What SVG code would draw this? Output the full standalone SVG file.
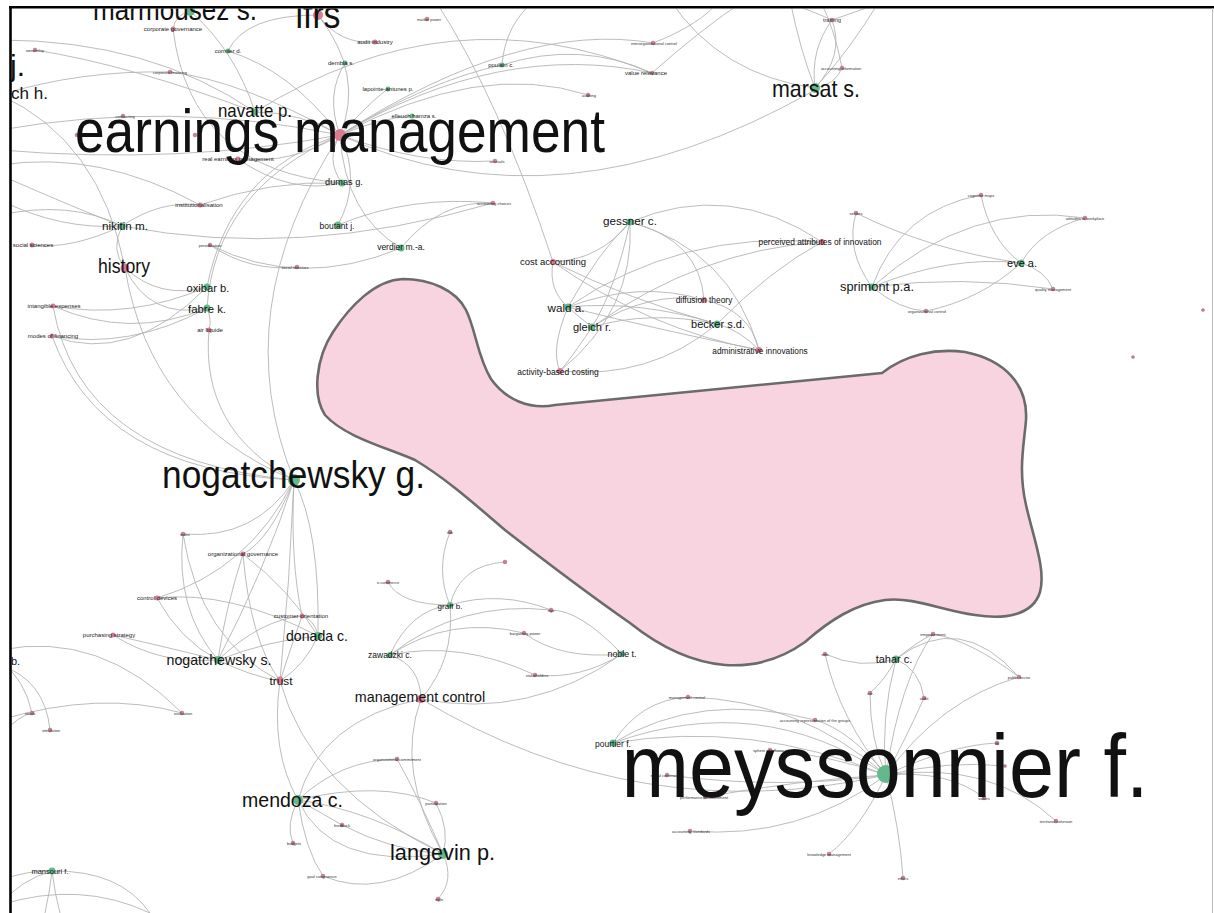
<svg xmlns="http://www.w3.org/2000/svg" width="1214" height="913" viewBox="0 0 1214 913">
<defs>
<clipPath id="frame"><rect x="11.5" y="8.5" width="1200" height="905"/></clipPath>
</defs>
<style>
text{font-family:"Liberation Sans",Arial,sans-serif;fill:#111;text-anchor:middle}
.e{fill:none;stroke:#b4b4b4;stroke-width:0.9}
.g{fill:#63b98b}
.p{fill:#d97b91}
.t{fill:#cf7d8f;stroke:#666;stroke-width:0.3}
.s4{font-size:4px;fill:#333}
.s6{font-size:6px;fill:#222}
</style>
<rect width="1214" height="913" fill="#fff"/>
<g clip-path="url(#frame)">
<g id="connectors">
<path class="e" d="M340 135 Q560 235 815 90"/>
<path class="e" d="M340 135 Q365 75 318 15"/>
<path class="e" d="M340 135 Q325 95 345 63"/>
<path class="e" d="M318 15 Q340 45 375 42"/>
<path class="e" d="M340 135 Q372 100 388 89"/>
<path class="e" d="M340 135 Q380 118 412 116"/>
<path class="e" d="M340 135 Q300 112 255 112"/>
<path class="e" d="M340 135 Q325 160 342 183"/>
<path class="e" d="M340 135 Q362 180 338 225"/>
<path class="e" d="M340 135 Q345 215 401 248"/>
<path class="e" d="M340 135 Q225 310 294 480"/>
<path class="e" d="M207 287 Q230 170 340 135"/>
<path class="e" d="M207 308 Q215 190 340 135"/>
<path class="e" d="M340 135 Q290 165 238 159"/>
<path class="e" d="M238 159 Q290 195 342 183"/>
<path class="e" d="M255 112 Q450 -10 652 73"/>
<path class="e" d="M340 135 Q500 40 652 73"/>
<path class="e" d="M502 65 Q580 40 652 73"/>
<path class="e" d="M340 135 Q520 20 653 43"/>
<path class="e" d="M502 65 Q430 80 340 135"/>
<path class="e" d="M502 65 Q505 25 535 0"/>
<path class="e" d="M340 135 Q480 60 588 95"/>
<path class="e" d="M340 135 Q420 165 495 161"/>
<path class="e" d="M401 248 Q440 200 493 203"/>
<path class="e" d="M338 225 Q410 195 493 203"/>
<path class="e" d="M122 226 Q300 260 493 203"/>
<path class="e" d="M435 0 Q500 100 553 262"/>
<path class="e" d="M173 29 Q190 170 342 183"/>
<path class="e" d="M228 51 Q245 15 318 15"/>
<path class="e" d="M228 51 Q290 70 340 135"/>
<path class="e" d="M190 11 Q175 15 173 29"/>
<path class="e" d="M190 11 Q235 50 255 112"/>
<path class="e" d="M170 72 Q240 80 340 135"/>
<path class="e" d="M0 95 Q80 70 170 72"/>
<path class="e" d="M0 40 Q150 40 255 112"/>
<path class="e" d="M35 50 Q130 65 255 112"/>
<path class="e" d="M0 130 Q170 100 340 135"/>
<path class="e" d="M0 150 Q180 165 340 135"/>
<path class="e" d="M0 95 Q100 140 125 268"/>
<path class="e" d="M0 175 Q80 210 122 226"/>
<path class="e" d="M0 200 Q60 230 122 226"/>
<path class="e" d="M0 215 Q70 200 122 226"/>
<path class="e" d="M122 226 Q70 250 32 245"/>
<path class="e" d="M122 226 Q110 250 125 268"/>
<path class="e" d="M122 226 Q160 200 200 205"/>
<path class="e" d="M200 205 Q270 180 342 183"/>
<path class="e" d="M0 165 Q100 150 200 205"/>
<path class="e" d="M125 268 Q160 300 207 287"/>
<path class="e" d="M125 268 Q150 320 207 308"/>
<path class="e" d="M125 268 Q150 420 294 480"/>
<path class="e" d="M210 245 Q300 290 401 248"/>
<path class="e" d="M210 245 Q250 272 297 267"/>
<path class="e" d="M53 306 Q130 320 207 287"/>
<path class="e" d="M53 306 Q130 340 207 308"/>
<path class="e" d="M52 336 Q130 350 207 308"/>
<path class="e" d="M52 336 Q130 365 207 287"/>
<path class="e" d="M209 330 Q200 430 294 480"/>
<path class="e" d="M207 308 Q212 320 209 330"/>
<path class="e" d="M53 306 Q80 460 294 480"/>
<path class="e" d="M52 336 Q100 470 294 480"/>
<path class="e" d="M294 480 Q255 540 183 534"/>
<path class="e" d="M294 480 Q270 540 243 554"/>
<path class="e" d="M294 480 Q250 570 157 598"/>
<path class="e" d="M294 480 Q290 560 302 616"/>
<path class="e" d="M294 480 Q320 530 318 636"/>
<path class="e" d="M294 480 Q290 580 280 681"/>
<path class="e" d="M294 480 Q265 570 218 660"/>
<path class="e" d="M183 534 Q175 610 218 660"/>
<path class="e" d="M183 534 Q200 640 280 681"/>
<path class="e" d="M243 554 Q225 610 218 660"/>
<path class="e" d="M243 554 Q290 590 318 636"/>
<path class="e" d="M243 554 Q250 640 280 681"/>
<path class="e" d="M157 598 Q180 640 218 660"/>
<path class="e" d="M157 598 Q230 590 318 636"/>
<path class="e" d="M302 616 Q260 620 218 660"/>
<path class="e" d="M302 616 Q315 620 318 636"/>
<path class="e" d="M302 616 Q290 650 280 681"/>
<path class="e" d="M113 635 Q160 665 218 660"/>
<path class="e" d="M113 635 Q170 648 218 660"/>
<path class="e" d="M318 636 Q305 665 280 681"/>
<path class="e" d="M218 660 Q270 640 318 636"/>
<path class="e" d="M218 660 Q250 676 280 681"/>
<path class="e" d="M280 681 Q270 750 298 800"/>
<path class="e" d="M280 681 Q310 790 443 854"/>
<path class="e" d="M298 800 Q320 720 421 699"/>
<path class="e" d="M298 800 Q370 810 443 854"/>
<path class="e" d="M298 800 Q340 760 397 759"/>
<path class="e" d="M298 800 Q325 815 342 825"/>
<path class="e" d="M298 800 Q285 825 293 843"/>
<path class="e" d="M298 800 Q305 850 323 876"/>
<path class="e" d="M298 800 Q380 780 436 803"/>
<path class="e" d="M298 800 Q330 870 443 854"/>
<path class="e" d="M443 854 Q450 830 436 803"/>
<path class="e" d="M443 854 Q455 880 438 899"/>
<path class="e" d="M443 854 Q420 800 397 759"/>
<path class="e" d="M443 854 Q395 770 421 699"/>
<path class="e" d="M323 876 Q380 900 443 854"/>
<path class="e" d="M342 825 Q390 850 443 854"/>
<path class="e" d="M450 605 Q400 605 388 582"/>
<path class="e" d="M450 605 Q460 565 505 562"/>
<path class="e" d="M450 605 Q500 590 551 610"/>
<path class="e" d="M450 605 Q410 610 390 655"/>
<path class="e" d="M450 605 Q455 660 421 699"/>
<path class="e" d="M450 605 Q435 570 450 532"/>
<path class="e" d="M390 655 Q450 615 524 633"/>
<path class="e" d="M390 655 Q460 600 551 610"/>
<path class="e" d="M390 655 Q460 640 535 675"/>
<path class="e" d="M390 655 Q420 665 421 699"/>
<path class="e" d="M622 654 Q580 610 551 610"/>
<path class="e" d="M622 654 Q560 660 524 633"/>
<path class="e" d="M622 654 Q580 680 535 675"/>
<path class="e" d="M622 654 Q530 720 421 699"/>
<path class="e" d="M421 699 Q640 830 886 775"/>
<path class="e" d="M886 775 Q880 720 896 659"/>
<path class="e" d="M886 775 Q900 680 933 634"/>
<path class="e" d="M886 775 Q840 720 825 654"/>
<path class="e" d="M886 775 Q870 740 870 693"/>
<path class="e" d="M886 775 Q905 740 924 698"/>
<path class="e" d="M886 775 Q940 700 1019 677"/>
<path class="e" d="M886 775 Q950 745 997 743"/>
<path class="e" d="M886 775 Q950 770 984 798"/>
<path class="e" d="M886 775 Q950 760 1005 766"/>
<path class="e" d="M886 775 Q990 760 1056 821"/>
<path class="e" d="M886 775 Q860 830 829 854"/>
<path class="e" d="M886 775 Q900 830 903 878"/>
<path class="e" d="M886 775 Q850 730 815 720"/>
<path class="e" d="M886 775 Q800 780 705 797"/>
<path class="e" d="M886 775 Q780 790 667 775"/>
<path class="e" d="M886 775 Q800 840 690 831"/>
<path class="e" d="M886 775 Q830 755 770 750"/>
<path class="e" d="M886 775 Q750 720 613 743"/>
<path class="e" d="M613 743 Q640 700 688 697"/>
<path class="e" d="M613 743 Q700 690 815 720"/>
<path class="e" d="M613 743 Q760 690 886 775"/>
<path class="e" d="M688 697 Q800 700 886 775"/>
<path class="e" d="M896 659 Q920 640 933 634"/>
<path class="e" d="M896 659 Q860 670 825 654"/>
<path class="e" d="M896 659 Q885 680 870 693"/>
<path class="e" d="M896 659 Q920 670 924 698"/>
<path class="e" d="M933 634 Q970 640 1019 677"/>
<path class="e" d="M896 659 Q960 610 1019 677"/>
<path class="e" d="M553 262 Q548 290 568 307"/>
<path class="e" d="M553 262 Q600 260 630 222"/>
<path class="e" d="M553 262 Q630 300 717 324"/>
<path class="e" d="M553 262 Q650 330 759 350"/>
<path class="e" d="M630 222 Q600 250 568 307"/>
<path class="e" d="M630 222 Q615 290 592 327"/>
<path class="e" d="M630 222 Q635 310 560 371"/>
<path class="e" d="M630 222 Q700 240 704 300"/>
<path class="e" d="M630 222 Q730 250 759 350"/>
<path class="e" d="M630 222 Q730 180 822 242"/>
<path class="e" d="M568 307 Q680 230 822 242"/>
<path class="e" d="M568 307 Q640 280 704 300"/>
<path class="e" d="M568 307 Q640 300 717 324"/>
<path class="e" d="M568 307 Q660 330 759 350"/>
<path class="e" d="M568 307 Q580 318 592 327"/>
<path class="e" d="M568 307 Q550 350 560 371"/>
<path class="e" d="M592 327 Q650 290 704 300"/>
<path class="e" d="M592 327 Q650 310 717 324"/>
<path class="e" d="M592 327 Q570 360 560 371"/>
<path class="e" d="M592 327 Q700 250 822 242"/>
<path class="e" d="M717 324 Q740 330 759 350"/>
<path class="e" d="M560 371 Q650 380 717 324"/>
<path class="e" d="M717 324 Q770 270 822 242"/>
<path class="e" d="M704 300 Q750 310 759 350"/>
<path class="e" d="M872 287 Q845 250 856 213"/>
<path class="e" d="M872 287 Q900 210 981 195"/>
<path class="e" d="M872 287 Q970 200 1085 218"/>
<path class="e" d="M872 287 Q950 255 1021 263"/>
<path class="e" d="M872 287 Q960 275 1053 289"/>
<path class="e" d="M872 287 Q900 310 926 311"/>
<path class="e" d="M856 213 Q930 250 1021 263"/>
<path class="e" d="M981 195 Q990 240 1021 263"/>
<path class="e" d="M1085 218 Q1040 230 1021 263"/>
<path class="e" d="M1021 263 Q1045 270 1053 289"/>
<path class="e" d="M1021 263 Q980 300 926 311"/>
<path class="e" d="M815 88 Q810 50 832 20"/>
<path class="e" d="M815 88 Q845 55 832 20"/>
<path class="e" d="M815 88 Q835 85 842 68"/>
<path class="e" d="M815 88 Q720 75 670 0"/>
<path class="e" d="M815 88 Q800 50 790 0"/>
<path class="e" d="M832 20 Q810 10 780 0"/>
<path class="e" d="M832 20 Q860 10 890 0"/>
<path class="e" d="M842 68 Q835 30 820 0"/>
<path class="e" d="M815 88 Q850 50 880 0"/>
<path class="e" d="M652 73 Q700 30 745 0"/>
<path class="e" d="M653 43 Q700 25 720 0"/>
<path class="e" d="M52 871 Q30 870 0 880"/>
<path class="e" d="M52 871 Q20 880 0 905"/>
<path class="e" d="M52 871 Q120 870 150 913"/>
<path class="e" d="M52 871 Q50 890 45 913"/>
<path class="e" d="M52 871 Q55 895 60 913"/>
<path class="e" d="M0 905 Q80 880 150 913"/>
<path class="e" d="M0 650 Q100 630 182 713"/>
<path class="e" d="M0 660 Q25 680 32 713"/>
<path class="e" d="M0 665 Q45 680 50 730"/>
<path class="e" d="M0 720 Q100 690 182 713"/>
<path class="e" d="M0 735 Q20 715 32 713"/>
</g>
<path id="hull" d="M403 279 C430 279 456 290 466 310 C476 330 477 356 491 379 C506 400 530 410 555 405 L882 373 C905 355 935 348 965 352 C1005 360 1028 385 1026 420 C1024 445 1018 470 1026 505 C1034 540 1046 570 1040 592 C1033 615 1005 620 975 615 C940 610 915 597 885 600 C855 604 830 620 805 642 C780 660 755 667 725 665 C690 662 660 647 630 623 C590 595 550 565 505 530 C470 500 445 478 415 460 C385 447 345 437 325 415 C312 395 316 358 333 332 C350 306 375 280 403 279 Z" fill="#f8d3e0" stroke="#6b6b6b" stroke-width="2.6"/>

<g id="n-ownership"><circle class="t" cx="35" cy="50" r="2"/><text class="s4" x="35" y="51.5">ownership</text></g>
<g id="n-corpfin"><circle class="t" cx="170" cy="72" r="2"/><text class="s4" x="170" y="73.5">corporate financing</text></g>
<g id="n-contracting"><circle class="t" cx="123" cy="116" r="2"/><text class="s4" x="125" y="117.5">contracting</text></g>
<g id="n-d1"><circle class="t" cx="77" cy="135" r="2"/></g>
<g id="n-d2"><circle class="t" cx="195" cy="135" r="2"/></g>
<g id="n-marketpower"><circle class="t" cx="427" cy="19" r="2"/><text class="s4" x="429" y="20.5">market power</text></g>
<g id="n-auditing"><circle class="t" cx="588" cy="95" r="2"/><text class="s4" x="589" y="96.5">auditing</text></g>
<g id="n-accruals"><circle class="t" cx="495" cy="161" r="2"/><text class="s4" x="497" y="162.5">accruals</text></g>
<g id="n-accchoices"><circle class="t" cx="493" cy="203" r="2"/><text class="s4" x="494" y="204.5">accounting choices</text></g>
<g id="n-accinfo"><circle class="t" cx="842" cy="68" r="2"/><text class="s4" x="841" y="69.5">accounting information</text></g>
<g id="n-periodisation"><circle class="t" cx="210" cy="245" r="2"/><text class="s4" x="210" y="246.5">periodisation</text></g>
<g id="n-socialid"><circle class="t" cx="297" cy="267" r="2"/><text class="s4" x="295" y="268.5">social identities</text></g>
<g id="n-index"><circle class="t" cx="183" cy="534" r="2"/><text class="s4" x="185" y="535.5">index</text></g>
<g id="n-ecommerce"><circle class="t" cx="388" cy="582" r="2"/><text class="s4" x="388" y="583.5">e-commerce</text></g>
<g id="n-d3"><circle class="t" cx="505" cy="562" r="2"/></g>
<g id="n-risk"><circle class="t" cx="450" cy="532" r="2"/><text class="s4" x="450" y="533.5">risk</text></g>
<g id="n-ngo"><circle class="t" cx="551" cy="610" r="2"/><text class="s4" x="551" y="611.5">ngo</text></g>
<g id="n-bargaining"><circle class="t" cx="524" cy="633" r="2"/><text class="s4" x="525" y="634.5">bargaining power</text></g>
<g id="n-stakeholders"><circle class="t" cx="535" cy="675" r="2"/><text class="s4" x="537" y="676.5">stakeholders</text></g>
<g id="n-orgcommit"><circle class="t" cx="397" cy="759" r="2"/><text class="s4" x="397" y="760.5">organizational commitment</text></g>
<g id="n-participation"><circle class="t" cx="436" cy="803" r="2"/><text class="s4" x="436" y="804.5">participation</text></g>
<g id="n-feedback"><circle class="t" cx="342" cy="825" r="2"/><text class="s4" x="342" y="826.5">feedback</text></g>
<g id="n-budgets"><circle class="t" cx="293" cy="843" r="2"/><text class="s4" x="294" y="844.5">budgets</text></g>
<g id="n-goal"><circle class="t" cx="323" cy="876" r="2"/><text class="s4" x="322" y="877.5">goal congruence</text></g>
<g id="n-style"><circle class="t" cx="438" cy="899" r="2"/><text class="s4" x="439" y="900.5">style</text></g>
<g id="n-rituals"><circle class="t" cx="32" cy="713" r="2"/><text class="s4" x="30" y="714.5">rituals</text></g>
<g id="n-evaluation"><circle class="t" cx="182" cy="713" r="2"/><text class="s4" x="183" y="714.5">evaluation</text></g>
<g id="n-simulation"><circle class="t" cx="50" cy="730" r="2"/><text class="s4" x="51" y="731.5">simulation</text></g>
<g id="n-mgmtctrl2"><circle class="t" cx="688" cy="697" r="2"/><text class="s4" x="687" y="698.5">management control</text></g>
<g id="n-accrep"><circle class="t" cx="815" cy="720" r="2"/><text class="s4" x="815" y="721.5">accounting representation of the groups</text></g>
<g id="n-sphere"><circle class="t" cx="770" cy="750" r="2"/><text class="s4" x="770" y="751.5">sphere of influence</text></g>
<g id="n-socialcons"><circle class="t" cx="667" cy="775" r="2"/><text class="s4" x="667" y="776.5">social construction</text></g>
<g id="n-perfmeas"><circle class="t" cx="705" cy="797" r="2"/><text class="s4" x="704" y="798.5">performance measurement</text></g>
<g id="n-accstd"><circle class="t" cx="690" cy="831" r="2"/><text class="s4" x="691" y="832.5">accounting standards</text></g>
<g id="n-empower"><circle class="t" cx="933" cy="634" r="2"/><text class="s4" x="933" y="635.5">empowerment</text></g>
<g id="n-sme"><circle class="t" cx="825" cy="654" r="2"/><text class="s4" x="825" y="655.5">sme</text></g>
<g id="n-csr"><circle class="t" cx="870" cy="693" r="2"/><text class="s4" x="870" y="694.5">csr</text></g>
<g id="n-audit"><circle class="t" cx="924" cy="698" r="2"/><text class="s4" x="924" y="699.5">audit</text></g>
<g id="n-public"><circle class="t" cx="1019" cy="677" r="2"/><text class="s4" x="1019" y="678.5">public sector</text></g>
<g id="n-fdi"><circle class="t" cx="997" cy="743" r="2"/><text class="s4" x="997" y="744.5">fdi</text></g>
<g id="n-values"><circle class="t" cx="984" cy="798" r="2"/><text class="s4" x="984" y="799.5">values</text></g>
<g id="n-territorial"><circle class="t" cx="1056" cy="821" r="2"/><text class="s4" x="1056" y="822.5">territorial cohesion</text></g>
<g id="n-knowledge"><circle class="t" cx="829" cy="854" r="2"/><text class="s4" x="829" y="855.5">knowledge management</text></g>
<g id="n-ethics"><circle class="t" cx="903" cy="878" r="2"/><text class="s4" x="903" y="879.5">ethics</text></g>
<g id="n-d4"><circle class="t" cx="1005" cy="766" r="1.6"/></g>
<g id="n-sectors"><circle class="t" cx="856" cy="213" r="2"/><text class="s4" x="856" y="214.5">sectors</text></g>
<g id="n-cognitive"><circle class="t" cx="981" cy="195" r="2"/><text class="s4" x="981" y="196.5">cognitive maps</text></g>
<g id="n-attitudes"><circle class="t" cx="1085" cy="218" r="2"/><text class="s4" x="1085" y="219.5">attitudes to workplace</text></g>
<g id="n-quality"><circle class="t" cx="1053" cy="289" r="2"/><text class="s4" x="1053" y="290.5">quality management</text></g>
<g id="n-orgcontrol"><circle class="t" cx="926" cy="311" r="2"/><text class="s4" x="927" y="312.5">organizational control</text></g>
<g id="n-training"><circle class="t" cx="832" cy="20" r="2"/><text class="s4" x="832" y="21.5" style="font-size:5.5px">training</text></g>
<g id="n-interorg"><circle class="t" cx="653" cy="43" r="2"/><text class="s4" x="654" y="44.5">interorganizational control</text></g>
<g id="n-valuerel"><circle class="t" cx="652" cy="73" r="2"/><text class="s6" x="646" y="75">value relevance</text></g>
<g id="n-d5"><circle class="t" cx="1203" cy="310" r="1.6"/></g>
<g id="n-d6"><circle class="t" cx="1133" cy="357" r="1.6"/></g>

<g id="n-corpgov"><circle class="p" cx="173" cy="29" r="2.5"/><text class="s6" x="173" y="31">corporate governance</text></g>
<g id="n-cormier"><circle class="g" cx="228" cy="51" r="2.5"/><text class="s6" x="228" y="53">cormier d.</text></g>
<g id="n-auditind"><circle class="p" cx="375" cy="42" r="2.5"/><text class="s6" x="375" y="44">audit industry</text></g>
<g id="n-dembla"><circle class="g" cx="345" cy="63" r="2.5"/><text class="s6" x="341" y="65">dembla s.</text></g>
<g id="n-lapointe"><circle class="g" cx="388" cy="89" r="2.5"/><text class="s6" x="388" y="91">lapointe-antunes p.</text></g>
<g id="n-elleuch"><circle class="g" cx="412" cy="116" r="2.5"/><text class="s6" x="414" y="118">elleuch hamza s.</text></g>
<g id="n-poulain"><circle class="g" cx="502" cy="65" r="2.5"/><text class="s6" x="501" y="67">poulain c.</text></g>
<g id="n-realem"><circle class="p" cx="238" cy="159" r="2.5"/><text class="s6" x="238" y="161">real earnings management</text></g>
<g id="n-institution"><circle class="p" cx="200" cy="205" r="2.5"/><text class="s6" x="199" y="207">institutionalisation</text></g>
<g id="n-socsci"><circle class="p" cx="32" cy="245" r="2.5"/><text class="s6" x="33" y="247">social sciences</text></g>
<g id="n-intangible"><circle class="p" cx="53" cy="306" r="2.5"/><text class="s6" x="54" y="308">intangible expenses</text></g>
<g id="n-modes"><circle class="p" cx="52" cy="336" r="2.5"/><text class="s6" x="53" y="338">modes of financing</text></g>
<g id="n-airliquide"><circle class="p" cx="209" cy="330" r="2.5"/><text class="s6" x="210" y="332">air liquide</text></g>
<g id="n-orggov"><circle class="p" cx="243" cy="554" r="2.5"/><text class="s6" x="243" y="556">organizational governance</text></g>
<g id="n-controldev"><circle class="p" cx="157" cy="598" r="2.5"/><text class="s6" x="157" y="600">control devices</text></g>
<g id="n-customer"><circle class="p" cx="302" cy="616" r="2.5"/><text class="s6" x="301" y="618">customer orientation</text></g>
<g id="n-purchasing"><circle class="p" cx="113" cy="635" r="2.5"/><text class="s6" x="109" y="637">purchasing strategy</text></g>

<g id="n-marmousez"><circle class="g" cx="190" cy="11" r="5"/><text x="175" y="20" style="font-size:30px" textLength="164" lengthAdjust="spacingAndGlyphs">marmousez s.</text></g>
<g id="n-ifrs"><circle class="p" cx="318" cy="15" r="5"/><text x="318" y="28" style="font-size:38px" textLength="45" lengthAdjust="spacingAndGlyphs">ifrs</text></g>
<g id="n-jcut"><text x="25" y="76" style="font-size:30px;text-anchor:end">j.</text></g>
<g id="n-chh"><text x="11" y="99" style="font-size:17px;text-anchor:start">ch h.</text></g>
<g id="n-navatte"><circle class="g" cx="255" cy="112" r="3.5"/><text x="255" y="117" style="font-size:19px" textLength="74" lengthAdjust="spacingAndGlyphs">navatte p.</text></g>
<g id="n-earnings"><circle class="p" cx="340" cy="135" r="6"/><text x="340" y="152" style="font-size:61px" textLength="530" lengthAdjust="spacingAndGlyphs">earnings management</text></g>
<g id="n-marsat"><circle class="g" cx="815" cy="88" r="5"/><text x="816" y="97" style="font-size:24px" textLength="88" lengthAdjust="spacingAndGlyphs">marsat s.</text></g>
<g id="n-dumas"><circle class="g" cx="342" cy="183" r="3.5"/><text x="344" y="185" style="font-size:9.2px">dumas g.</text></g>
<g id="n-boutant"><circle class="g" cx="338" cy="225" r="3.5"/><text x="337" y="229" style="font-size:8.5px">boutant j.</text></g>
<g id="n-verdier"><circle class="g" cx="401" cy="248" r="3.5"/><text x="401" y="250" style="font-size:8.5px">verdier m.-a.</text></g>
<g id="n-nikitin"><circle class="g" cx="122" cy="226" r="3.5"/><text x="125" y="230" style="font-size:11.7px">nikitin m.</text></g>
<g id="n-history"><circle class="p" cx="125" cy="268" r="4.5"/><text x="124" y="273" style="font-size:19.5px" textLength="52" lengthAdjust="spacingAndGlyphs">history</text></g>
<g id="n-oxibar"><circle class="g" cx="207" cy="287" r="3.5"/><text x="208" y="292" style="font-size:11.2px">oxibar b.</text></g>
<g id="n-fabre"><circle class="g" cx="207" cy="308" r="3.5"/><text x="207" y="313" style="font-size:11.4px">fabre k.</text></g>
<g id="n-gessner"><circle class="g" cx="630" cy="222" r="3.5"/><text x="630" y="225" style="font-size:11.7px">gessner c.</text></g>
<g id="n-perceived"><circle class="p" cx="822" cy="242" r="3"/><text x="820" y="245" style="font-size:8.4px">perceived attributes of innovation</text></g>
<g id="n-costacc"><circle class="p" cx="553" cy="262" r="3"/><text x="553" y="265" style="font-size:9.5px">cost accounting</text></g>
<g id="n-wald"><circle class="g" cx="568" cy="307" r="3.5"/><text x="566" y="312" style="font-size:11.7px">wald a.</text></g>
<g id="n-gleich"><circle class="g" cx="592" cy="327" r="3.5"/><text x="592" y="331" style="font-size:11.1px">gleich r.</text></g>
<g id="n-diffusion"><circle class="p" cx="704" cy="300" r="3"/><text x="704" y="303" style="font-size:8.4px">diffusion theory</text></g>
<g id="n-becker"><circle class="g" cx="717" cy="324" r="3.5"/><text x="718" y="328" style="font-size:11px">becker s.d.</text></g>
<g id="n-admin"><circle class="p" cx="759" cy="350" r="3"/><text x="760" y="354" style="font-size:8.3px">administrative innovations</text></g>
<g id="n-abc"><circle class="p" cx="560" cy="371" r="3"/><text x="558" y="375" style="font-size:8.5px">activity-based costing</text></g>
<g id="n-sprimont"><circle class="g" cx="872" cy="287" r="3.5"/><text x="877" y="291" style="font-size:12.8px">sprimont p.a.</text></g>
<g id="n-eve"><circle class="g" cx="1021" cy="263" r="3.5"/><text x="1022" y="267" style="font-size:11px">eve a.</text></g>
<g id="n-nogag"><circle class="g" cx="294" cy="480" r="6"/><text x="293.5" y="488" style="font-size:38px" textLength="263" lengthAdjust="spacingAndGlyphs">nogatchewsky g.</text></g>
<g id="n-donada"><circle class="g" cx="318" cy="636" r="4"/><text x="317" y="641" style="font-size:14.1px">donada c.</text></g>
<g id="n-bcut"><text x="11" y="665" style="font-size:11px;text-anchor:start">b.</text></g>
<g id="n-nogas"><circle class="g" cx="218" cy="660" r="4"/><text x="219" y="665" style="font-size:14.2px">nogatchewsky s.</text></g>
<g id="n-trust"><circle class="p" cx="280" cy="680" r="3.5"/><text x="281" y="685" style="font-size:11.8px">trust</text></g>
<g id="n-graff"><circle class="g" cx="450" cy="605" r="3"/><text x="450" y="609" style="font-size:8px">graff b.</text></g>
<g id="n-zawadzki"><circle class="g" cx="390" cy="655" r="3"/><text x="390" y="658" style="font-size:8.5px">zawadzki c.</text></g>
<g id="n-noble"><circle class="g" cx="622" cy="654" r="3"/><text x="622" y="657" style="font-size:8.8px">noble t.</text></g>
<g id="n-mgmtctrl"><circle class="p" cx="421" cy="699" r="4"/><text x="420" y="702" style="font-size:14.3px">management control</text></g>
<g id="n-mendoza"><circle class="g" cx="298" cy="800" r="5"/><text x="292.5" y="807" style="font-size:20px" textLength="101" lengthAdjust="spacingAndGlyphs">mendoza c.</text></g>
<g id="n-langevin"><circle class="g" cx="443" cy="854" r="5"/><text x="442.5" y="860" style="font-size:22.5px" textLength="105" lengthAdjust="spacingAndGlyphs">langevin p.</text></g>
<g id="n-mansouri"><circle class="g" cx="52" cy="871" r="3.5"/><text x="50" y="874" style="font-size:7.5px">mansouri f.</text></g>
<g id="n-pourtier"><circle class="g" cx="613" cy="743" r="3.5"/><text x="613" y="747" style="font-size:8.5px">pourtier f.</text></g>
<g id="n-tahar"><circle class="g" cx="896" cy="659" r="3.5"/><text x="894" y="663" style="font-size:11px">tahar c.</text></g>
<g id="n-meyssonnier"><circle class="g" cx="886" cy="774" r="9"/><text x="885" y="797" style="font-size:89px" textLength="527" lengthAdjust="spacingAndGlyphs">meyssonnier f.</text></g>
</g>
<line x1="10.5" y1="6" x2="10.5" y2="913" stroke="#000" stroke-width="2.6"/>
<line x1="9" y1="7.3" x2="1214" y2="7.3" stroke="#000" stroke-width="2.4"/>
<line x1="1212.5" y1="8" x2="1212.5" y2="913" stroke="#bbb" stroke-width="1"/>
</svg>
